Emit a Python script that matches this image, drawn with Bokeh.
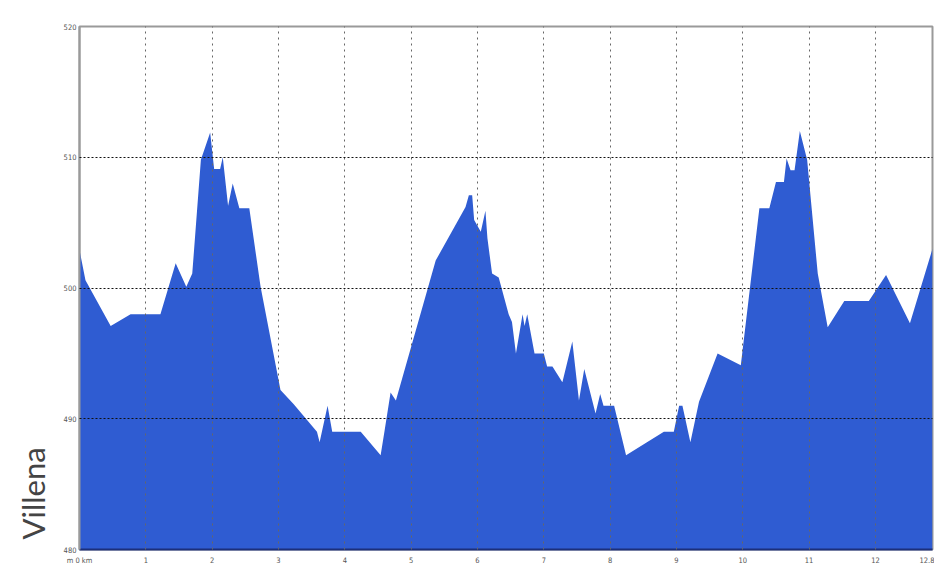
from bokeh.plotting import figure
from bokeh.models import FixedTicker, Title, Range1d
from bokeh.embed import file_html
from bokeh.resources import INLINE

# distance along route (km) and elevation (m)
km = [0.00, 0.09, 0.47, 0.77, 1.22, 1.45, 1.61, 1.70, 1.83, 1.97, 2.03, 2.12, 2.16,
      2.24, 2.31, 2.41, 2.56, 2.73, 3.03, 3.23, 3.58, 3.62, 3.74, 3.81, 4.24, 4.54,
      4.60, 4.69, 4.77, 5.37, 5.82, 5.87, 5.92, 5.95, 6.05, 6.12, 6.15, 6.22, 6.32,
      6.47, 6.52, 6.58, 6.68, 6.71, 6.75, 6.86, 7.00, 7.05, 7.13, 7.28, 7.43, 7.53,
      7.61, 7.78, 7.85, 7.90, 8.06, 8.24, 8.81, 8.96, 9.04, 9.09, 9.21, 9.34, 9.62,
      9.97, 10.25, 10.40, 10.50, 10.62, 10.66, 10.72, 10.78, 10.86, 10.97, 11.13,
      11.28, 11.53, 11.90, 12.16, 12.52, 12.86]
elev = [502.9, 500.6, 497.1, 498.0, 498.0, 501.9, 500.1, 501.1, 509.8, 511.9, 509.1,
        509.1, 510.0, 506.3, 508.0, 506.1, 506.1, 500.1, 492.2, 491.1, 489.0, 488.2,
        491.0, 489.0, 489.0, 487.2, 489.1, 492.0, 491.4, 502.1, 506.2, 507.1, 507.1,
        505.2, 504.3, 505.9, 503.8, 501.1, 500.8, 498.0, 497.4, 495.0, 498.0, 497.1,
        498.0, 495.0, 495.0, 494.0, 494.0, 492.8, 495.9, 491.4, 493.8, 490.4, 491.9,
        491.0, 491.0, 487.2, 489.0, 489.0, 491.0, 491.0, 488.2, 491.3, 495.0, 494.1,
        506.1, 506.1, 508.1, 508.1, 509.9, 509.0, 509.0, 512.0, 509.8, 501.1, 497.0,
        499.0, 499.0, 501.0, 497.3, 503.0]

x_ticks = [0, 1, 2, 3, 4, 5, 6, 7, 8, 9, 10, 11, 12, 12.86]
x_tick_labels = ["m 0 km", "1", "2", "3", "4", "5", "6", "7", "8", "9", "10", "11", "12", "12.8"]
y_ticks = [480, 490, 500, 510, 520]
y_tick_labels = ["480", "490", "500", "510", "520"]
place_name = "Villena"

p = figure(width=934, height=570, output_backend="svg", toolbar_location=None,
           x_range=Range1d(0, 12.86), y_range=Range1d(480, 520),
           min_border_left=79, min_border_right=2, min_border_top=26, min_border_bottom=21,
           background_fill_color="white", border_fill_color="white")

p.varea(x=km, y1=480, y2=elev, fill_color="#2f5cd2")

p.outline_line_color = "#9a9a9a"
p.outline_line_width = 2

p.xaxis.ticker = FixedTicker(ticks=x_ticks)
p.xaxis.major_label_overrides = {t: l for t, l in zip(x_ticks, x_tick_labels)}
p.yaxis.ticker = FixedTicker(ticks=y_ticks)
p.yaxis.major_label_overrides = {t: l for t, l in zip(y_ticks, y_tick_labels)}

for ax in (p.xaxis[0], p.yaxis[0]):
    ax.major_tick_out = 0
    ax.major_tick_in = 0
    ax.minor_tick_out = 0
    ax.minor_tick_in = 0
    ax.major_label_text_font = "DejaVu Sans Condensed"
    ax.major_label_text_font_size = "7.5px"
    ax.major_label_text_color = "#555555"
p.xaxis.major_label_standoff = 6
p.yaxis.major_label_standoff = 3
p.yaxis.axis_line_color = "#9a9a9a"
p.yaxis.axis_line_width = 2
p.xaxis.axis_line_color = "#1c2f7a"
p.xaxis.axis_line_width = 2

p.xgrid.ticker = FixedTicker(ticks=[1, 2, 3, 4, 5, 6, 7, 8, 9, 10, 11, 12])
p.ygrid.ticker = FixedTicker(ticks=[490, 500, 510])
p.xgrid.grid_line_color = "#666666"
p.xgrid.grid_line_dash = "2 4"
p.xgrid.grid_line_width = 1
p.ygrid.grid_line_color = "#111111"
p.ygrid.grid_line_dash = "2 2"
p.ygrid.grid_line_width = 1
p.xgrid.level = "overlay"
p.ygrid.level = "overlay"

p.add_layout(Title(text=place_name, align="left", text_font="Lato", text_font_size="31px",
                   text_font_style="normal", text_color="#444444", offset=10,
                   standoff=18), "left")

open("out.html", "w").write(file_html(p, INLINE))
